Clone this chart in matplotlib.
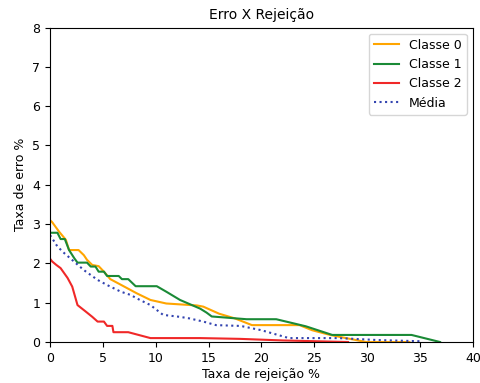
import matplotlib
matplotlib.use("Agg")
import matplotlib.pyplot as plt

# -----------------------------
# Dados
# -----------------------------

x_c0 = [0.0, 0.2, 0.85, 1.5, 1.8, 2.7, 3.2, 3.5, 4.0, 4.6, 5.1, 5.7, 6.4, 8.2, 9.5,
        11.0, 13.9, 14.5, 16.0, 17.5, 19.1, 23.6, 24.8, 26.5, 28.0, 29.9, 34.0]
y_c0 = [3.1, 3.05, 2.81, 2.6, 2.34, 2.34, 2.21, 2.09, 1.96, 1.93, 1.79, 1.6, 1.5, 1.24, 1.07,
        0.98, 0.93, 0.9, 0.72, 0.6, 0.43, 0.43, 0.3, 0.18, 0.1, 0.0, 0.0]

x_c1 = [0.0, 0.7, 1.0, 1.4, 1.8, 2.3, 2.6, 3.5, 3.85, 4.3, 4.6, 5.1, 5.4, 6.5, 6.8,
        7.4, 8.1, 10.1, 11.0, 12.3, 14.2, 14.8, 15.3, 18.6, 21.4, 24.2, 26.7, 34.2, 36.9]
y_c1 = [2.78, 2.78, 2.62, 2.62, 2.34, 2.13, 2.02, 2.02, 1.92, 1.92, 1.79, 1.79, 1.68, 1.68, 1.6,
        1.6, 1.42, 1.42, 1.28, 1.07, 0.85, 0.75, 0.65, 0.58, 0.58, 0.4, 0.18, 0.18, 0.0]

x_c2 = [0.0, 0.2, 0.6, 1.0, 1.66, 2.1, 2.6, 3.4, 4.0, 4.5, 5.1, 5.4, 5.9, 6.0, 7.4,
        9.5, 14.2, 18.0, 22.0, 28.2]
y_c2 = [2.12, 2.05, 1.96, 1.88, 1.63, 1.41, 0.94, 0.77, 0.64, 0.52, 0.52, 0.41, 0.41, 0.25, 0.25,
        0.1, 0.1, 0.08, 0.04, 0.0]

x_media = [0.0, 0.2, 0.7, 1.35, 2.3, 3.2, 4.5, 5.4, 6.7, 7.6, 8.5, 9.5, 10.7, 12.3, 13.2,
           14.5, 15.7, 17.9, 18.2, 20.0, 22.6, 27.3, 31.0, 35.0]
y_media = [2.72, 2.64, 2.43, 2.26, 2.04, 1.83, 1.58, 1.45, 1.28, 1.2, 1.07, 0.94, 0.69, 0.64, 0.6,
           0.52, 0.43, 0.41, 0.4, 0.3, 0.1, 0.1, 0.05, 0.02]

# -----------------------------
# Figura
# -----------------------------

fig = plt.figure(figsize=(4.81, 3.83), dpi=100)
ax = fig.add_axes([0.104, 0.107, 0.879, 0.821])

ax.plot(x_c0, y_c0, color="#ffa500", lw=1.5, label="Classe 0")
ax.plot(x_c1, y_c1, color="#1a8a36", lw=1.5, label="Classe 1")
ax.plot(x_c2, y_c2, color="#f02828", lw=1.5, label="Classe 2")
ax.plot(x_media, y_media, color="#3344b0", lw=1.5, ls=":", label="Média")

ax.set_xlim(0, 40)
ax.set_ylim(0, 8)
ax.set_xlabel("Taxa de rejeição %", fontsize=9, labelpad=2)
ax.set_ylabel("Taxa de erro %", fontsize=9, labelpad=4)
ax.set_title("Erro X Rejeição", fontsize=10)
ax.tick_params(labelsize=9)
ax.legend(loc="upper right", fontsize=9)

fig.savefig("out.png", dpi=100)
